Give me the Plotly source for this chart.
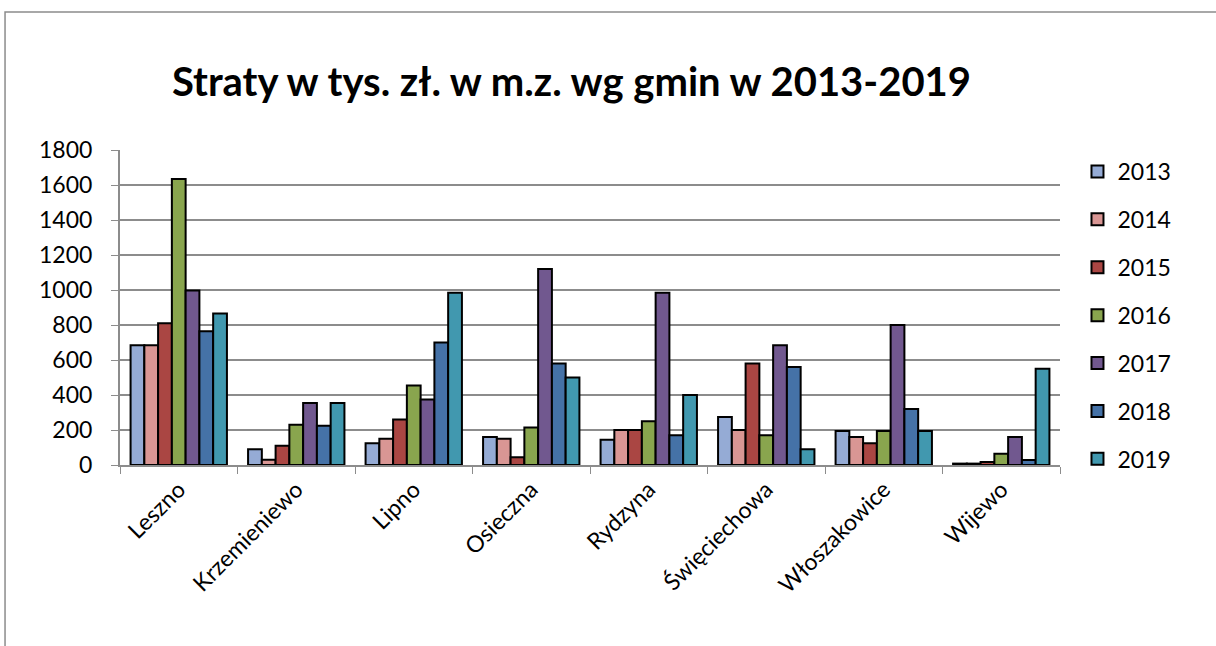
import plotly.graph_objects as go

gminy = ['Leszno', 'Krzemieniewo', 'Lipno', 'Osieczna', 'Rydzyna',
         'Święciechowa', 'Włoszakowice', 'Wijewo']
lata = ['2013', '2014', '2015', '2016', '2017', '2018', '2019']

straty_2013 = [685, 90, 125, 160, 145, 275, 195, 8]
straty_2014 = [685, 30, 150, 150, 200, 200, 160, 8]
straty_2015 = [810, 110, 260, 45, 200, 580, 125, 17]
straty_2016 = [1635, 230, 455, 215, 250, 170, 195, 65]
straty_2017 = [997, 355, 375, 1120, 985, 685, 800, 160]
straty_2018 = [765, 225, 700, 580, 170, 560, 320, 28]
straty_2019 = [866, 355, 985, 500, 400, 90, 195, 550]

serie = [straty_2013, straty_2014, straty_2015, straty_2016,
         straty_2017, straty_2018, straty_2019]
kolory = ['#95abd5', '#d99694', '#aa4643', '#89a54e', '#71588f', '#4572a7', '#4198af']

fig = go.Figure()
for rok, wartosci, kolor in zip(lata, serie, kolory):
    fig.add_trace(go.Bar(
        x=gminy, y=wartosci, name=rok, legendgroup=rok,
        marker=dict(color=kolor, line=dict(color='black', width=2)),
    ))

# ramka wykresu (jak w Excelu)
fig.add_shape(type='rect', xref='paper', yref='paper',
              x0=-0.1223, x1=1.18, y0=-0.6, y1=1.438,
              line=dict(color='#8c8c8c', width=1.5), layer='below')

fig.update_layout(
    width=1216, height=646,
    paper_bgcolor='white', plot_bgcolor='white',
    font=dict(family='Lato, Calibri, sans-serif', color='black'),
    margin=dict(l=120, r=156, t=150, b=181),
    title=dict(text='<b>Straty w tys. zł. w m.z. wg gmin w 2013-2019</b>',
               x=0.47, xanchor='center', y=0.873, yanchor='middle',
               font=dict(size=40, color='black')),
    barmode='group', bargap=0.18, bargroupgap=0,
    showlegend=True,
    legend=dict(x=1.0186, xanchor='left', y=1.0, yanchor='top',
                font=dict(size=23), tracegroupgap=15, maxheight=600,
                itemwidth=30, bgcolor='rgba(0,0,0,0)'),
    xaxis=dict(tickangle=-45, tickfont=dict(size=23), showline=True,
               linecolor='#8c8c8c', linewidth=2, ticks='outside',
               tickson='boundaries', ticklen=7, tickcolor='#8c8c8c',
               showgrid=False, automargin=False),
    yaxis=dict(range=[0, 1800], dtick=200, tickfont=dict(size=23),
               showgrid=True, gridcolor='#8c8c8c', gridwidth=2,
               showline=True, linecolor='#8c8c8c', linewidth=2,
               ticks='outside', ticklen=7, tickcolor='#8c8c8c',
               ticklabelstandoff=14, zeroline=False, automargin=False),
)

fig.write_html('out.html', config={'displayModeBar': False},
               post_script="document.body.style.margin='0';")
